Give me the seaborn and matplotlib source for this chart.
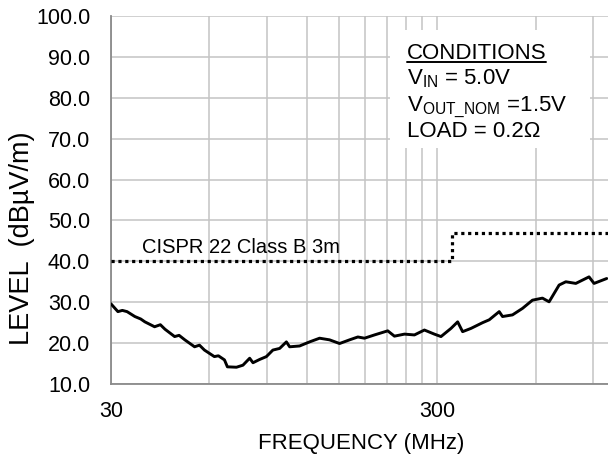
import matplotlib
matplotlib.use("Agg")
import matplotlib.pyplot as plt
import seaborn as sns
import pandas as pd
from matplotlib.patches import Rectangle
from matplotlib.lines import Line2D
from matplotlib.ticker import FixedLocator, NullFormatter, FixedFormatter

# ---- data ----
freq_mhz = [30, 31.5, 32.5, 33.6, 35.5, 37.0, 38.1, 40.8, 42.5, 43.9, 47.0, 48.5,
            50.5, 54.1, 56.0, 58.0, 62.2, 64.0, 66.8, 68.2, 72.7, 76.1, 79.8, 81.7,
            85.6, 89.8, 94.0, 98.6, 103.4, 105.8, 113.5, 121.8, 130.7, 140.2, 150.5,
            161.5, 171.2, 179.4, 192.5, 211.4, 221.6, 237.9, 255.2, 273.8, 293.7,
            307.8, 330.3, 346.2, 358.5, 380.4, 412.8, 432.6, 464.1, 475.2, 509.7,
            547.2, 586.8, 629.7, 660, 708.3, 742.5, 796.8, 874.8, 906.3, 991]
level_dbuv = [29.6, 27.7, 28.0, 27.7, 26.5, 25.9, 25.2, 24.0, 24.5, 23.4, 21.6, 21.9,
              20.8, 19.1, 19.5, 18.3, 16.7, 16.9, 15.9, 14.2, 14.1, 14.6, 16.3, 15.2,
              16.0, 16.7, 18.3, 18.7, 20.3, 19.1, 19.3, 20.3, 21.2, 20.8, 19.9,
              20.8, 21.5, 21.2, 22.0, 23.0, 21.7, 22.2, 22.0, 23.2, 22.2,
              21.6, 23.6, 25.2, 22.8, 23.6, 25.0, 25.7, 27.7, 26.5, 26.9,
              28.5, 30.5, 31.0, 30.1, 34.2, 35.0, 34.6, 36.2, 34.6, 35.8]

limit_freq = [30, 333, 333, 1000]
limit_level = [40, 40, 47, 47]

y_ticks = [10, 20, 30, 40, 50, 60, 70, 80, 90, 100]
x_major = [30, 300]
x_minor = [60, 90, 120, 150, 180, 210, 240, 270, 600, 900]

# ---- style ----
sns.set_theme(style="white")
plt.rcParams['font.family'] = ['Liberation Sans', 'DejaVu Sans']
plt.rcParams['mathtext.default'] = 'regular'

W, H = 608, 457
fig = plt.figure(figsize=(W / 100, H / 100), dpi=100)
L, R, T, B = 111, 608, 16, 384
ax = fig.add_axes([L / W, 1 - B / H, (R - L) / W, (B - T) / H])

trace = pd.DataFrame({"freq": freq_mhz, "level": level_dbuv})
limit = pd.DataFrame({"freq": limit_freq, "level": limit_level})

sns.lineplot(data=trace, x="freq", y="level", ax=ax, color="black", lw=2.1,
             estimator=None, sort=False, zorder=3)
sns.lineplot(data=limit, x="freq", y="level", ax=ax, color="black", lw=2.3,
             estimator=None, sort=False, zorder=3,
             linestyle=(0, (1, 1.15)), dash_capstyle="butt")

ax.set_xscale("log")
ax.set_xlim(30, 1000)
ax.set_ylim(10, 100)

ax.xaxis.set_major_locator(FixedLocator(x_major))
ax.xaxis.set_major_formatter(FixedFormatter([str(v) for v in x_major]))
ax.xaxis.set_minor_locator(FixedLocator(x_minor))
ax.xaxis.set_minor_formatter(NullFormatter())
ax.yaxis.set_major_locator(FixedLocator(y_ticks))
ax.set_yticklabels([f"{v:.1f}" for v in y_ticks])

grid_c = "#c4c4c4"
axis_c = "#8a8a8a"
ax.set_axisbelow(True)
ax.grid(True, which="major", axis="both", color=grid_c, lw=1.1)
ax.grid(True, which="minor", axis="x", color=grid_c, lw=1.1)

for s in ["top", "right"]:
    ax.spines[s].set_visible(False)
for s in ["left", "bottom"]:
    ax.spines[s].set_color(axis_c)
    ax.spines[s].set_linewidth(1.3)

ax.tick_params(axis="both", which="major", direction="out", length=5, width=1.3,
               color=axis_c, labelsize=15.5, labelcolor="black")
ax.tick_params(axis="x", which="major", pad=7)
ax.tick_params(axis="y", which="major", pad=10)
ax.tick_params(axis="x", which="minor", length=0)

ax.set_xlabel("")
ax.set_ylabel("")
fig.text(361 / W, 1 - 444 / H, "FREQUENCY (MHz)", ha="center", va="center",
         fontsize=16, color="black")
fig.text(22 / W, 1 - 238 / H, "LEVEL  (dBµV/m)", ha="center", va="center",
         rotation=90, fontsize=19.5, color="black")

# limit label
fig.text(142 / W, 1 - 253 / H, "CISPR 22 Class B 3m", ha="left", va="baseline",
         fontsize=14.5, color="black")

# conditions box
ax.add_patch(Rectangle((0.561, 0.641), 0.403, 0.321, transform=ax.transAxes,
                       facecolor="white", edgecolor="none", zorder=1.5))
cx = 406.7 / W
t = fig.text(cx, 1 - 59.3 / H, "CONDITIONS", ha="left", va="baseline",
             fontsize=16, color="black")
fig.text(cx, 1 - 84.5 / H, r"V$_{IN}$ = 5.0V", ha="left", va="baseline",
         fontsize=16, color="black")
fig.text(cx, 1 - 111.7 / H, r"V$_{OUT\_NOM}$ =1.5V", ha="left", va="baseline",
         fontsize=16, color="black")
fig.text(cx, 1 - 136.7 / H, "LOAD = 0.2Ω", ha="left", va="baseline",
         fontsize=16, color="black")

fig.canvas.draw()
bb = t.get_window_extent(renderer=fig.canvas.get_renderer())
uy = 1 - 62 / H
fig.add_artist(Line2D([bb.x0 / W, bb.x1 / W], [uy, uy], transform=fig.transFigure,
                      color="black", lw=1.4))

fig.savefig("out.png", dpi=100)
